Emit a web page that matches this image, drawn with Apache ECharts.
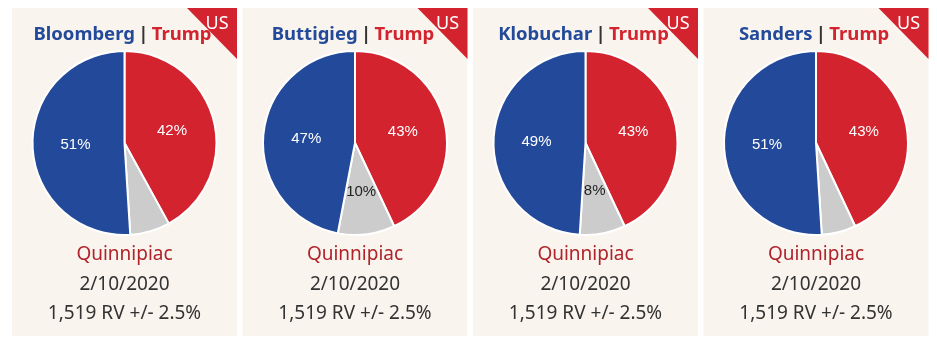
<!DOCTYPE html>
<html>
<head>
<meta charset="utf-8">
<script src="https://cdn.jsdelivr.net/npm/echarts@6/dist/echarts.min.js"></script>
<style>
  html, body { margin: 0; padding: 0; background: #ffffff; }
  #chart { width: 937px; height: 345px; }
</style>
</head>
<body>
<div id="chart"></div>
<script>
// Head-to-head general election polls: each Democrat vs. Trump
const challengers = ['Bloomberg', 'Buttigieg', 'Klobuchar', 'Sanders'];
const demShare = [51, 47, 49, 51];
const trumpShare = [42, 43, 43, 43];
const otherShare = [7, 10, 8, 6];
const pollsters = ['Quinnipiac', 'Quinnipiac', 'Quinnipiac', 'Quinnipiac'];
const pollDates = ['2/10/2020', '2/10/2020', '2/10/2020', '2/10/2020'];
const sampleInfo = ['1,519 RV +/- 2.5%', '1,519 RV +/- 2.5%', '1,519 RV +/- 2.5%', '1,519 RV +/- 2.5%'];
const regionTag = 'US';

const BLUE = '#234a9a';
const RED = '#d2232f';
const GREY = '#cccccc';
const CARD = '#f9f4ee';
const TEXT_FONT = '"Noto Sans", "Open Sans", sans-serif';

const cardW = 225, cardH = 328, cardTop = 8;
const cardLeft = [12, 242.5, 473, 703.5];
const pieR = 92, pieCy = 143;

const graphics = [];
const series = [];

challengers.forEach((name, i) => {
  const x0 = cardLeft[i];
  const cx = x0 + cardW / 2;

  graphics.push({
    type: 'rect', z: 0,
    shape: { x: x0, y: cardTop, width: cardW, height: cardH },
    style: { fill: CARD }
  });
  graphics.push({
    type: 'polygon', z: 1,
    shape: { points: [[x0 + cardW - 50, cardTop], [x0 + cardW, cardTop], [x0 + cardW, cardTop + 51]] },
    style: { fill: RED }
  });
  graphics.push({
    type: 'text', z: 3,
    style: {
      text: regionTag, x: x0 + cardW - 20, y: cardTop + 16,
      align: 'center', verticalAlign: 'middle',
      fill: '#ffffff', font: '18px ' + TEXT_FONT
    }
  });
  graphics.push({
    type: 'text', z: 2,
    style: {
      text: '{d|' + name + '} {s||} {t|Trump}',
      x: cx - 2, y: 35, align: 'center', verticalAlign: 'middle',
      rich: {
        d: { fill: BLUE, fontSize: 18.5, fontWeight: 'bold', fontFamily: TEXT_FONT },
        s: { fill: '#333333', fontSize: 18.5, fontWeight: 'bold', fontFamily: TEXT_FONT },
        t: { fill: RED, fontSize: 18.5, fontWeight: 'bold', fontFamily: TEXT_FONT }
      }
    }
  });
  const lines = [
    { text: pollsters[i], y: 255, fill: '#b0232a' },
    { text: pollDates[i], y: 285, fill: '#333333' },
    { text: sampleInfo[i], y: 314, fill: '#333333' }
  ];
  lines.forEach(l => graphics.push({
    type: 'text', z: 2,
    style: {
      text: l.text, x: cx, y: l.y, align: 'center', verticalAlign: 'middle',
      fill: l.fill, font: '19px ' + TEXT_FONT
    }
  }));

  series.push({
    type: 'pie',
    center: [cx, pieCy],
    radius: [0, pieR],
    startAngle: 90,
    clockwise: true,
    silent: true,
    animation: false,
    z: 2,
    itemStyle: { borderColor: '#ffffff', borderWidth: 2 },
    label: {
      show: true, position: 'inside', formatter: '{c}%',
      fontSize: 15, fontFamily: '"Liberation Sans", Arial, sans-serif'
    },
    labelLine: { show: false },
    data: [
      { name: 'Trump', value: trumpShare[i], itemStyle: { color: RED }, label: { color: '#ffffff' } },
      { name: 'Other', value: otherShare[i], itemStyle: { color: GREY },
        label: { color: '#222222', show: otherShare[i] >= 8 } },
      { name: name, value: demShare[i], itemStyle: { color: BLUE }, label: { color: '#ffffff' } }
    ]
  });
});

const chart = echarts.init(document.getElementById('chart'), null, { renderer: 'canvas' });
chart.setOption({
  backgroundColor: '#ffffff',
  animation: false,
  graphic: graphics,
  series: series
});
</script>
</body>
</html>
